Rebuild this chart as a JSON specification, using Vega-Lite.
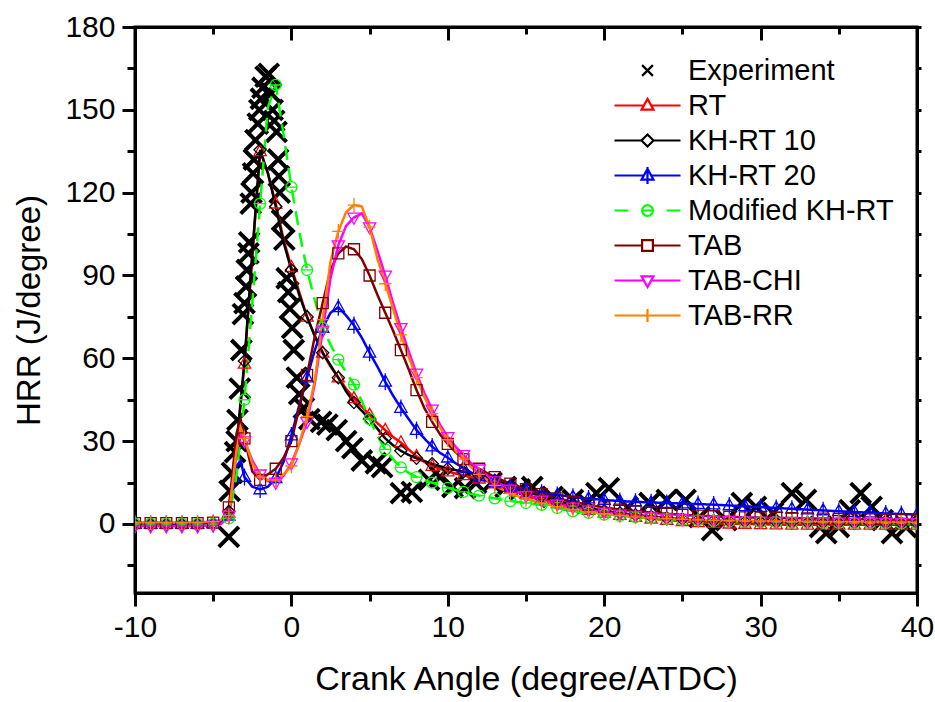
{
"$schema": "https://vega.github.io/schema/vega-lite/v6.json",
"width": 782, "height": 566,
"autosize": {"type": "none"},
"padding": {"left": 135, "top": 27, "right": 18, "bottom": 109},
"background": "white",
"config": {"view": {"stroke": "black", "strokeWidth": 3}},
"datasets": {
"exp": [
{"m":"Experiment","x":-4.0,"y":-4.7},{"m":"Experiment","x":-3.95,"y":12},{"m":"Experiment","x":-3.8,"y":18.5},{"m":"Experiment","x":-3.6,"y":26},{"m":"Experiment","x":-3.5,"y":30},{"m":"Experiment","x":-3.45,"y":37.7},{"m":"Experiment","x":-3.3,"y":49},{"m":"Experiment","x":-3.2,"y":63},{"m":"Experiment","x":-3.1,"y":76},{"m":"Experiment","x":-3.0,"y":80},{"m":"Experiment","x":-2.9,"y":86},{"m":"Experiment","x":-2.85,"y":92},{"m":"Experiment","x":-2.75,"y":98},{"m":"Experiment","x":-2.7,"y":102},{"m":"Experiment","x":-2.6,"y":116},{"m":"Experiment","x":-2.55,"y":120},{"m":"Experiment","x":-2.45,"y":127},{"m":"Experiment","x":-2.4,"y":132},{"m":"Experiment","x":-2.3,"y":139},{"m":"Experiment","x":-2.15,"y":145},{"m":"Experiment","x":-2.05,"y":150},{"m":"Experiment","x":-1.95,"y":154},{"m":"Experiment","x":-1.85,"y":158},{"m":"Experiment","x":-1.65,"y":162},{"m":"Experiment","x":-1.45,"y":163},{"m":"Experiment","x":-1.3,"y":156},{"m":"Experiment","x":-1.2,"y":150},{"m":"Experiment","x":-1.1,"y":146},{"m":"Experiment","x":-0.95,"y":142},{"m":"Experiment","x":-0.85,"y":132},{"m":"Experiment","x":-0.8,"y":126},{"m":"Experiment","x":-0.75,"y":120},{"m":"Experiment","x":-0.6,"y":110},{"m":"Experiment","x":-0.45,"y":103},{"m":"Experiment","x":-0.3,"y":89},{"m":"Experiment","x":-0.2,"y":84},{"m":"Experiment","x":-0.1,"y":78},{"m":"Experiment","x":0.05,"y":71},{"m":"Experiment","x":0.15,"y":63},{"m":"Experiment","x":0.35,"y":53},{"m":"Experiment","x":0.5,"y":47},{"m":"Experiment","x":0.8,"y":42},{"m":"Experiment","x":1.15,"y":38},{"m":"Experiment","x":1.9,"y":37},{"m":"Experiment","x":2.3,"y":36},{"m":"Experiment","x":2.9,"y":34},{"m":"Experiment","x":3.5,"y":30},{"m":"Experiment","x":3.9,"y":27.5},{"m":"Experiment","x":4.5,"y":23},{"m":"Experiment","x":5.4,"y":22},{"m":"Experiment","x":5.8,"y":20.6},{"m":"Experiment","x":7.0,"y":11.2},{"m":"Experiment","x":7.7,"y":11.6},{"m":"Experiment","x":8.8,"y":16},{"m":"Experiment","x":9.5,"y":17},{"m":"Experiment","x":10.3,"y":13.4},{"m":"Experiment","x":11.1,"y":13},{"m":"Experiment","x":11.8,"y":14.8},{"m":"Experiment","x":12.8,"y":15},{"m":"Experiment","x":13.7,"y":13.4},{"m":"Experiment","x":14.6,"y":12.5},{"m":"Experiment","x":15.4,"y":13.4},{"m":"Experiment","x":16.7,"y":9.8},{"m":"Experiment","x":18,"y":8.7},{"m":"Experiment","x":18.9,"y":7.6},{"m":"Experiment","x":19.5,"y":11.2},{"m":"Experiment","x":20.3,"y":13},{"m":"Experiment","x":21.5,"y":6},{"m":"Experiment","x":22.9,"y":7.6},{"m":"Experiment","x":24,"y":8.7},{"m":"Experiment","x":25.2,"y":8.7},{"m":"Experiment","x":26.1,"y":2.5},{"m":"Experiment","x":26.9,"y":-2.2},{"m":"Experiment","x":27.8,"y":1.4},{"m":"Experiment","x":28.8,"y":7.6},{"m":"Experiment","x":29.7,"y":6.2},{"m":"Experiment","x":30.8,"y":4},{"m":"Experiment","x":32,"y":11.2},{"m":"Experiment","x":32.9,"y":8.7},{"m":"Experiment","x":33.8,"y":-1.1},{"m":"Experiment","x":34.2,"y":-3.3},{"m":"Experiment","x":35,"y":-1.1},{"m":"Experiment","x":35.7,"y":5},{"m":"Experiment","x":36.4,"y":11.2},{"m":"Experiment","x":37.1,"y":6.2},{"m":"Experiment","x":37.8,"y":1.4},{"m":"Experiment","x":38.4,"y":-3.3},{"m":"Experiment","x":39.3,"y":-1.1}
],
"models": [
{"m":"RT","x":-10,"y":0},{"m":"RT","x":-9,"y":0},{"m":"RT","x":-8,"y":0},{"m":"RT","x":-7,"y":0},{"m":"RT","x":-6,"y":0},{"m":"RT","x":-5,"y":0.2},{"m":"RT","x":-4.5,"y":0.5},{"m":"RT","x":-4,"y":4},{"m":"RT","x":-3.5,"y":28},{"m":"RT","x":-3,"y":58},{"m":"RT","x":-2.5,"y":97},{"m":"RT","x":-2,"y":135},{"m":"RT","x":-1.5,"y":127},{"m":"RT","x":-1,"y":116},{"m":"RT","x":-0.5,"y":103},{"m":"RT","x":0,"y":93},{"m":"RT","x":0.5,"y":84},{"m":"RT","x":1,"y":75},{"m":"RT","x":1.5,"y":68},{"m":"RT","x":2,"y":62},{"m":"RT","x":2.5,"y":57},{"m":"RT","x":3,"y":53},{"m":"RT","x":3.5,"y":49},{"m":"RT","x":4,"y":45.5},{"m":"RT","x":4.5,"y":42.5},{"m":"RT","x":5,"y":39.5},{"m":"RT","x":5.5,"y":36.5},{"m":"RT","x":6,"y":34},{"m":"RT","x":6.5,"y":31.5},{"m":"RT","x":7,"y":29.5},{"m":"RT","x":7.5,"y":27},{"m":"RT","x":8,"y":24.5},{"m":"RT","x":8.5,"y":22.5},{"m":"RT","x":9,"y":21},{"m":"RT","x":9.5,"y":20},{"m":"RT","x":10,"y":19},{"m":"RT","x":10.5,"y":18.3},{"m":"RT","x":11,"y":17.6},{"m":"RT","x":11.5,"y":17},{"m":"RT","x":12,"y":16.4},{"m":"RT","x":13,"y":14.6},{"m":"RT","x":14,"y":12.6},{"m":"RT","x":15,"y":10.7},{"m":"RT","x":16,"y":9},{"m":"RT","x":17,"y":7.5},{"m":"RT","x":18,"y":6.2},{"m":"RT","x":19,"y":5},{"m":"RT","x":20,"y":4},{"m":"RT","x":21,"y":3.2},{"m":"RT","x":22,"y":2.5},{"m":"RT","x":23,"y":1.9},{"m":"RT","x":24,"y":1.4},{"m":"RT","x":25,"y":1},{"m":"RT","x":26,"y":0.6},{"m":"RT","x":27,"y":0.3},{"m":"RT","x":28,"y":0.1},{"m":"RT","x":29,"y":0},{"m":"RT","x":30,"y":-0.1},{"m":"RT","x":31,"y":-0.2},{"m":"RT","x":32,"y":-0.3},{"m":"RT","x":33,"y":-0.3},{"m":"RT","x":34,"y":-0.3},{"m":"RT","x":35,"y":-0.3},{"m":"RT","x":36,"y":-0.3},{"m":"RT","x":37,"y":-0.3},{"m":"RT","x":38,"y":-0.3},{"m":"RT","x":39,"y":-0.3},{"m":"RT","x":40,"y":-0.3},
{"m":"KH-RT 10","x":-10,"y":0},{"m":"KH-RT 10","x":-9,"y":0},{"m":"KH-RT 10","x":-8,"y":0},{"m":"KH-RT 10","x":-7,"y":0},{"m":"KH-RT 10","x":-6,"y":0},{"m":"KH-RT 10","x":-5,"y":0.2},{"m":"KH-RT 10","x":-4.5,"y":0.5},{"m":"KH-RT 10","x":-4,"y":4.5},{"m":"KH-RT 10","x":-3.5,"y":29},{"m":"KH-RT 10","x":-3,"y":59},{"m":"KH-RT 10","x":-2.5,"y":98},{"m":"KH-RT 10","x":-2,"y":135.5},{"m":"KH-RT 10","x":-1.5,"y":127},{"m":"KH-RT 10","x":-1,"y":115},{"m":"KH-RT 10","x":-0.5,"y":102},{"m":"KH-RT 10","x":0,"y":92},{"m":"KH-RT 10","x":0.5,"y":83},{"m":"KH-RT 10","x":1,"y":75},{"m":"KH-RT 10","x":1.5,"y":68},{"m":"KH-RT 10","x":2,"y":62},{"m":"KH-RT 10","x":2.5,"y":57.5},{"m":"KH-RT 10","x":3,"y":53},{"m":"KH-RT 10","x":3.5,"y":48},{"m":"KH-RT 10","x":4,"y":44},{"m":"KH-RT 10","x":4.5,"y":41},{"m":"KH-RT 10","x":5,"y":38},{"m":"KH-RT 10","x":5.5,"y":34.5},{"m":"KH-RT 10","x":6,"y":31},{"m":"KH-RT 10","x":6.5,"y":28.5},{"m":"KH-RT 10","x":7,"y":26.5},{"m":"KH-RT 10","x":7.5,"y":25},{"m":"KH-RT 10","x":8,"y":23.8},{"m":"KH-RT 10","x":8.5,"y":22.8},{"m":"KH-RT 10","x":9,"y":21.8},{"m":"KH-RT 10","x":9.5,"y":20.9},{"m":"KH-RT 10","x":10,"y":20.1},{"m":"KH-RT 10","x":10.5,"y":19.5},{"m":"KH-RT 10","x":11,"y":18.9},{"m":"KH-RT 10","x":11.5,"y":18.3},{"m":"KH-RT 10","x":12,"y":17.6},{"m":"KH-RT 10","x":13,"y":15.8},{"m":"KH-RT 10","x":14,"y":13.8},{"m":"KH-RT 10","x":15,"y":11.8},{"m":"KH-RT 10","x":16,"y":10},{"m":"KH-RT 10","x":17,"y":8.4},{"m":"KH-RT 10","x":18,"y":7},{"m":"KH-RT 10","x":19,"y":5.8},{"m":"KH-RT 10","x":20,"y":4.8},{"m":"KH-RT 10","x":21,"y":4},{"m":"KH-RT 10","x":22,"y":3.3},{"m":"KH-RT 10","x":23,"y":2.7},{"m":"KH-RT 10","x":24,"y":2.2},{"m":"KH-RT 10","x":25,"y":1.8},{"m":"KH-RT 10","x":26,"y":1.5},{"m":"KH-RT 10","x":27,"y":1.2},{"m":"KH-RT 10","x":28,"y":1},{"m":"KH-RT 10","x":29,"y":0.8},{"m":"KH-RT 10","x":30,"y":0.7},{"m":"KH-RT 10","x":31,"y":0.6},{"m":"KH-RT 10","x":32,"y":0.5},{"m":"KH-RT 10","x":33,"y":0.5},{"m":"KH-RT 10","x":34,"y":0.4},{"m":"KH-RT 10","x":35,"y":0.4},{"m":"KH-RT 10","x":36,"y":0.3},{"m":"KH-RT 10","x":37,"y":0.3},{"m":"KH-RT 10","x":38,"y":0.3},{"m":"KH-RT 10","x":39,"y":0.2},{"m":"KH-RT 10","x":40,"y":0.2},
{"m":"KH-RT 20","x":-10,"y":0},{"m":"KH-RT 20","x":-9,"y":0},{"m":"KH-RT 20","x":-8,"y":0},{"m":"KH-RT 20","x":-7,"y":0},{"m":"KH-RT 20","x":-6,"y":0},{"m":"KH-RT 20","x":-5,"y":0.2},{"m":"KH-RT 20","x":-4.5,"y":0.5},{"m":"KH-RT 20","x":-4,"y":3},{"m":"KH-RT 20","x":-3.5,"y":21},{"m":"KH-RT 20","x":-3.25,"y":23},{"m":"KH-RT 20","x":-3,"y":17},{"m":"KH-RT 20","x":-2.5,"y":13.5},{"m":"KH-RT 20","x":-2,"y":12.5},{"m":"KH-RT 20","x":-1.5,"y":13.5},{"m":"KH-RT 20","x":-1,"y":16.5},{"m":"KH-RT 20","x":-0.5,"y":22.5},{"m":"KH-RT 20","x":0,"y":32},{"m":"KH-RT 20","x":0.5,"y":43},{"m":"KH-RT 20","x":1,"y":53},{"m":"KH-RT 20","x":1.5,"y":63},{"m":"KH-RT 20","x":2,"y":71},{"m":"KH-RT 20","x":2.5,"y":76.5},{"m":"KH-RT 20","x":3,"y":78.5},{"m":"KH-RT 20","x":3.5,"y":75.5},{"m":"KH-RT 20","x":4,"y":72},{"m":"KH-RT 20","x":4.5,"y":67.5},{"m":"KH-RT 20","x":5,"y":62},{"m":"KH-RT 20","x":5.5,"y":57},{"m":"KH-RT 20","x":6,"y":51.5},{"m":"KH-RT 20","x":6.5,"y":46.5},{"m":"KH-RT 20","x":7,"y":42},{"m":"KH-RT 20","x":7.5,"y":38},{"m":"KH-RT 20","x":8,"y":34},{"m":"KH-RT 20","x":8.5,"y":31},{"m":"KH-RT 20","x":9,"y":28},{"m":"KH-RT 20","x":9.5,"y":25.8},{"m":"KH-RT 20","x":10,"y":24},{"m":"KH-RT 20","x":10.5,"y":22},{"m":"KH-RT 20","x":11,"y":20.3},{"m":"KH-RT 20","x":11.5,"y":18.6},{"m":"KH-RT 20","x":12,"y":17.2},{"m":"KH-RT 20","x":13,"y":15},{"m":"KH-RT 20","x":14,"y":13.5},{"m":"KH-RT 20","x":15,"y":12.3},{"m":"KH-RT 20","x":16,"y":11.3},{"m":"KH-RT 20","x":17,"y":10.5},{"m":"KH-RT 20","x":18,"y":9.8},{"m":"KH-RT 20","x":19,"y":9.2},{"m":"KH-RT 20","x":20,"y":8.7},{"m":"KH-RT 20","x":21,"y":8.3},{"m":"KH-RT 20","x":22,"y":8},{"m":"KH-RT 20","x":23,"y":7.8},{"m":"KH-RT 20","x":24,"y":7.6},{"m":"KH-RT 20","x":25,"y":7.4},{"m":"KH-RT 20","x":26,"y":7.2},{"m":"KH-RT 20","x":27,"y":7},{"m":"KH-RT 20","x":28,"y":6.7},{"m":"KH-RT 20","x":29,"y":6.4},{"m":"KH-RT 20","x":30,"y":6.1},{"m":"KH-RT 20","x":31,"y":5.8},{"m":"KH-RT 20","x":32,"y":5.5},{"m":"KH-RT 20","x":33,"y":5.2},{"m":"KH-RT 20","x":34,"y":4.9},{"m":"KH-RT 20","x":35,"y":4.6},{"m":"KH-RT 20","x":36,"y":4.3},{"m":"KH-RT 20","x":37,"y":4.1},{"m":"KH-RT 20","x":38,"y":3.8},{"m":"KH-RT 20","x":39,"y":3.6},{"m":"KH-RT 20","x":40,"y":3.4},
{"m":"Modified KH-RT","x":-10,"y":0},{"m":"Modified KH-RT","x":-9,"y":0},{"m":"Modified KH-RT","x":-8,"y":0},{"m":"Modified KH-RT","x":-7,"y":0},{"m":"Modified KH-RT","x":-6,"y":0},{"m":"Modified KH-RT","x":-5,"y":0},{"m":"Modified KH-RT","x":-4.5,"y":0.2},{"m":"Modified KH-RT","x":-4,"y":2},{"m":"Modified KH-RT","x":-3.5,"y":18},{"m":"Modified KH-RT","x":-3,"y":45},{"m":"Modified KH-RT","x":-2.5,"y":80},{"m":"Modified KH-RT","x":-2,"y":116},{"m":"Modified KH-RT","x":-1.5,"y":151},{"m":"Modified KH-RT","x":-1,"y":159},{"m":"Modified KH-RT","x":-0.5,"y":141},{"m":"Modified KH-RT","x":0,"y":122},{"m":"Modified KH-RT","x":0.5,"y":106},{"m":"Modified KH-RT","x":1,"y":92},{"m":"Modified KH-RT","x":1.5,"y":81},{"m":"Modified KH-RT","x":2,"y":71},{"m":"Modified KH-RT","x":2.5,"y":65},{"m":"Modified KH-RT","x":3,"y":59.5},{"m":"Modified KH-RT","x":3.5,"y":55},{"m":"Modified KH-RT","x":4,"y":50.5},{"m":"Modified KH-RT","x":4.5,"y":44.5},{"m":"Modified KH-RT","x":5,"y":38},{"m":"Modified KH-RT","x":5.5,"y":32},{"m":"Modified KH-RT","x":6,"y":27},{"m":"Modified KH-RT","x":6.5,"y":23.5},{"m":"Modified KH-RT","x":7,"y":20.5},{"m":"Modified KH-RT","x":7.5,"y":18.5},{"m":"Modified KH-RT","x":8,"y":17},{"m":"Modified KH-RT","x":8.5,"y":15.9},{"m":"Modified KH-RT","x":9,"y":15},{"m":"Modified KH-RT","x":9.5,"y":14},{"m":"Modified KH-RT","x":10,"y":13.1},{"m":"Modified KH-RT","x":10.5,"y":12.3},{"m":"Modified KH-RT","x":11,"y":11.6},{"m":"Modified KH-RT","x":11.5,"y":10.9},{"m":"Modified KH-RT","x":12,"y":10.3},{"m":"Modified KH-RT","x":13,"y":9.3},{"m":"Modified KH-RT","x":14,"y":8.3},{"m":"Modified KH-RT","x":15,"y":7.6},{"m":"Modified KH-RT","x":16,"y":6.9},{"m":"Modified KH-RT","x":17,"y":5.8},{"m":"Modified KH-RT","x":18,"y":4.6},{"m":"Modified KH-RT","x":19,"y":4},{"m":"Modified KH-RT","x":20,"y":3.4},{"m":"Modified KH-RT","x":21,"y":2.9},{"m":"Modified KH-RT","x":22,"y":2.5},{"m":"Modified KH-RT","x":23,"y":2.1},{"m":"Modified KH-RT","x":24,"y":1.8},{"m":"Modified KH-RT","x":25,"y":1.5},{"m":"Modified KH-RT","x":26,"y":1.3},{"m":"Modified KH-RT","x":27,"y":1.1},{"m":"Modified KH-RT","x":28,"y":0.9},{"m":"Modified KH-RT","x":29,"y":0.8},{"m":"Modified KH-RT","x":30,"y":0.7},{"m":"Modified KH-RT","x":31,"y":0.6},{"m":"Modified KH-RT","x":32,"y":0.5},{"m":"Modified KH-RT","x":33,"y":0.5},{"m":"Modified KH-RT","x":34,"y":0.4},{"m":"Modified KH-RT","x":35,"y":0.4},{"m":"Modified KH-RT","x":36,"y":0.3},{"m":"Modified KH-RT","x":37,"y":0.3},{"m":"Modified KH-RT","x":38,"y":0.3},{"m":"Modified KH-RT","x":39,"y":0.2},{"m":"Modified KH-RT","x":40,"y":0.2},
{"m":"TAB","x":-10,"y":0.3},{"m":"TAB","x":-9,"y":0.3},{"m":"TAB","x":-8,"y":0.3},{"m":"TAB","x":-7,"y":0.3},{"m":"TAB","x":-6,"y":0.3},{"m":"TAB","x":-5,"y":0.5},{"m":"TAB","x":-4.5,"y":1},{"m":"TAB","x":-4,"y":6},{"m":"TAB","x":-3.5,"y":33},{"m":"TAB","x":-3.25,"y":38},{"m":"TAB","x":-3,"y":31},{"m":"TAB","x":-2.5,"y":19},{"m":"TAB","x":-2,"y":16},{"m":"TAB","x":-1.5,"y":18},{"m":"TAB","x":-1,"y":20},{"m":"TAB","x":-0.5,"y":24},{"m":"TAB","x":0,"y":30},{"m":"TAB","x":0.5,"y":42},{"m":"TAB","x":1,"y":54},{"m":"TAB","x":1.5,"y":68},{"m":"TAB","x":2,"y":80},{"m":"TAB","x":2.5,"y":92},{"m":"TAB","x":3,"y":98},{"m":"TAB","x":3.5,"y":100.5},{"m":"TAB","x":4,"y":99.5},{"m":"TAB","x":4.5,"y":96},{"m":"TAB","x":5,"y":90},{"m":"TAB","x":5.5,"y":83},{"m":"TAB","x":6,"y":76.5},{"m":"TAB","x":6.5,"y":70},{"m":"TAB","x":7,"y":63},{"m":"TAB","x":7.5,"y":56},{"m":"TAB","x":8,"y":48.5},{"m":"TAB","x":8.5,"y":42},{"m":"TAB","x":9,"y":37},{"m":"TAB","x":9.5,"y":32.5},{"m":"TAB","x":10,"y":29},{"m":"TAB","x":10.5,"y":26},{"m":"TAB","x":11,"y":23.5},{"m":"TAB","x":11.5,"y":21.5},{"m":"TAB","x":12,"y":20},{"m":"TAB","x":13,"y":17},{"m":"TAB","x":14,"y":14.6},{"m":"TAB","x":15,"y":12.6},{"m":"TAB","x":16,"y":10.8},{"m":"TAB","x":17,"y":9.3},{"m":"TAB","x":18,"y":8},{"m":"TAB","x":19,"y":6.9},{"m":"TAB","x":20,"y":6},{"m":"TAB","x":21,"y":5.2},{"m":"TAB","x":22,"y":4.6},{"m":"TAB","x":23,"y":4.1},{"m":"TAB","x":24,"y":3.7},{"m":"TAB","x":25,"y":3.3},{"m":"TAB","x":26,"y":3},{"m":"TAB","x":27,"y":2.8},{"m":"TAB","x":28,"y":2.6},{"m":"TAB","x":29,"y":2.4},{"m":"TAB","x":30,"y":2.3},{"m":"TAB","x":31,"y":2.2},{"m":"TAB","x":32,"y":2.1},{"m":"TAB","x":33,"y":2},{"m":"TAB","x":34,"y":1.9},{"m":"TAB","x":35,"y":1.8},{"m":"TAB","x":36,"y":1.7},{"m":"TAB","x":37,"y":1.7},{"m":"TAB","x":38,"y":1.6},{"m":"TAB","x":39,"y":1.5},{"m":"TAB","x":40,"y":1.5},
{"m":"TAB-CHI","x":-10,"y":-0.8},{"m":"TAB-CHI","x":-9,"y":-0.8},{"m":"TAB-CHI","x":-8,"y":-0.8},{"m":"TAB-CHI","x":-7,"y":-0.8},{"m":"TAB-CHI","x":-6,"y":-0.8},{"m":"TAB-CHI","x":-5,"y":-0.5},{"m":"TAB-CHI","x":-4.5,"y":0},{"m":"TAB-CHI","x":-4,"y":3},{"m":"TAB-CHI","x":-3.5,"y":26},{"m":"TAB-CHI","x":-3.25,"y":33},{"m":"TAB-CHI","x":-3,"y":30},{"m":"TAB-CHI","x":-2.5,"y":23},{"m":"TAB-CHI","x":-2,"y":18},{"m":"TAB-CHI","x":-1.5,"y":15.5},{"m":"TAB-CHI","x":-1,"y":15},{"m":"TAB-CHI","x":-0.5,"y":17.5},{"m":"TAB-CHI","x":0,"y":22},{"m":"TAB-CHI","x":0.5,"y":29},{"m":"TAB-CHI","x":1,"y":37},{"m":"TAB-CHI","x":1.5,"y":51},{"m":"TAB-CHI","x":2,"y":70},{"m":"TAB-CHI","x":2.5,"y":89},{"m":"TAB-CHI","x":3,"y":101},{"m":"TAB-CHI","x":3.5,"y":108},{"m":"TAB-CHI","x":4,"y":111},{"m":"TAB-CHI","x":4.5,"y":112.5},{"m":"TAB-CHI","x":5,"y":107.5},{"m":"TAB-CHI","x":5.5,"y":99},{"m":"TAB-CHI","x":6,"y":90},{"m":"TAB-CHI","x":6.5,"y":80},{"m":"TAB-CHI","x":7,"y":71},{"m":"TAB-CHI","x":7.5,"y":62.5},{"m":"TAB-CHI","x":8,"y":54.5},{"m":"TAB-CHI","x":8.5,"y":47.5},{"m":"TAB-CHI","x":9,"y":41.5},{"m":"TAB-CHI","x":9.5,"y":36},{"m":"TAB-CHI","x":10,"y":31.5},{"m":"TAB-CHI","x":10.5,"y":28},{"m":"TAB-CHI","x":11,"y":25},{"m":"TAB-CHI","x":11.5,"y":22},{"m":"TAB-CHI","x":12,"y":19.8},{"m":"TAB-CHI","x":13,"y":15.5},{"m":"TAB-CHI","x":14,"y":12.5},{"m":"TAB-CHI","x":15,"y":10.2},{"m":"TAB-CHI","x":16,"y":8.5},{"m":"TAB-CHI","x":17,"y":7.1},{"m":"TAB-CHI","x":18,"y":6},{"m":"TAB-CHI","x":19,"y":5},{"m":"TAB-CHI","x":20,"y":4.2},{"m":"TAB-CHI","x":21,"y":3.5},{"m":"TAB-CHI","x":22,"y":3},{"m":"TAB-CHI","x":23,"y":2.5},{"m":"TAB-CHI","x":24,"y":2.1},{"m":"TAB-CHI","x":25,"y":1.8},{"m":"TAB-CHI","x":26,"y":1.5},{"m":"TAB-CHI","x":27,"y":1.3},{"m":"TAB-CHI","x":28,"y":1.1},{"m":"TAB-CHI","x":29,"y":1},{"m":"TAB-CHI","x":30,"y":0.9},{"m":"TAB-CHI","x":31,"y":0.8},{"m":"TAB-CHI","x":32,"y":0.8},{"m":"TAB-CHI","x":33,"y":0.7},{"m":"TAB-CHI","x":34,"y":0.7},{"m":"TAB-CHI","x":35,"y":0.6},{"m":"TAB-CHI","x":36,"y":0.6},{"m":"TAB-CHI","x":37,"y":0.5},{"m":"TAB-CHI","x":38,"y":0.5},{"m":"TAB-CHI","x":39,"y":0.5},{"m":"TAB-CHI","x":40,"y":0.4},
{"m":"TAB-RR","x":-10,"y":0.5},{"m":"TAB-RR","x":-9,"y":0.5},{"m":"TAB-RR","x":-8,"y":0.5},{"m":"TAB-RR","x":-7,"y":0.5},{"m":"TAB-RR","x":-6,"y":0.6},{"m":"TAB-RR","x":-5,"y":0.8},{"m":"TAB-RR","x":-4.5,"y":1.5},{"m":"TAB-RR","x":-4,"y":3},{"m":"TAB-RR","x":-3.5,"y":27},{"m":"TAB-RR","x":-3.25,"y":35},{"m":"TAB-RR","x":-3,"y":31},{"m":"TAB-RR","x":-2.5,"y":22},{"m":"TAB-RR","x":-2,"y":17},{"m":"TAB-RR","x":-1.5,"y":16},{"m":"TAB-RR","x":-1,"y":16},{"m":"TAB-RR","x":-0.5,"y":18},{"m":"TAB-RR","x":0,"y":21},{"m":"TAB-RR","x":0.5,"y":29},{"m":"TAB-RR","x":1,"y":39},{"m":"TAB-RR","x":1.5,"y":52},{"m":"TAB-RR","x":2,"y":74},{"m":"TAB-RR","x":2.5,"y":95},{"m":"TAB-RR","x":3,"y":106},{"m":"TAB-RR","x":3.5,"y":113},{"m":"TAB-RR","x":4,"y":115.5},{"m":"TAB-RR","x":4.5,"y":115},{"m":"TAB-RR","x":5,"y":107.5},{"m":"TAB-RR","x":5.5,"y":96},{"m":"TAB-RR","x":6,"y":87},{"m":"TAB-RR","x":6.5,"y":78},{"m":"TAB-RR","x":7,"y":68.5},{"m":"TAB-RR","x":7.5,"y":60.5},{"m":"TAB-RR","x":8,"y":53},{"m":"TAB-RR","x":8.5,"y":46},{"m":"TAB-RR","x":9,"y":40},{"m":"TAB-RR","x":9.5,"y":35},{"m":"TAB-RR","x":10,"y":30.5},{"m":"TAB-RR","x":10.5,"y":26.5},{"m":"TAB-RR","x":11,"y":23.5},{"m":"TAB-RR","x":11.5,"y":20.5},{"m":"TAB-RR","x":12,"y":18},{"m":"TAB-RR","x":13,"y":14},{"m":"TAB-RR","x":14,"y":11},{"m":"TAB-RR","x":15,"y":9},{"m":"TAB-RR","x":16,"y":7.5},{"m":"TAB-RR","x":17,"y":6.3},{"m":"TAB-RR","x":18,"y":5.2},{"m":"TAB-RR","x":19,"y":4.4},{"m":"TAB-RR","x":20,"y":3.7},{"m":"TAB-RR","x":21,"y":3.1},{"m":"TAB-RR","x":22,"y":2.6},{"m":"TAB-RR","x":23,"y":2.2},{"m":"TAB-RR","x":24,"y":1.9},{"m":"TAB-RR","x":25,"y":1.7},{"m":"TAB-RR","x":26,"y":1.5},{"m":"TAB-RR","x":27,"y":1.3},{"m":"TAB-RR","x":28,"y":1.2},{"m":"TAB-RR","x":29,"y":1.1},{"m":"TAB-RR","x":30,"y":1},{"m":"TAB-RR","x":31,"y":1},{"m":"TAB-RR","x":32,"y":0.9},{"m":"TAB-RR","x":33,"y":0.9},{"m":"TAB-RR","x":34,"y":0.8},{"m":"TAB-RR","x":35,"y":0.8},{"m":"TAB-RR","x":36,"y":0.8},{"m":"TAB-RR","x":37,"y":0.7},{"m":"TAB-RR","x":38,"y":0.7},{"m":"TAB-RR","x":39,"y":0.7},{"m":"TAB-RR","x":40,"y":0.6}
]
},
"resolve": {"axis": {"x": "independent", "y": "independent"}},
"layer": [
{
"data": {"name": "exp"},
"mark": {"type": "point", "shape": "M-1,-1L1,1M-1,1L1,-1", "size": 400, "strokeWidth": 4, "filled": false, "opacity": 1, "clip": true},
"encoding": {
"x": {"field": "x", "type": "quantitative", "scale": {"domain": [-10, 40], "nice": false, "zero": false},
 "axis": {"orient": "bottom", "values": [-10,-5,0,5,10,15,20,25,30,35,40], "labelExpr": "datum.value % 10 === 0 ? '' + datum.value : ''", "grid": false,
  "tickSize": {"condition": {"test": "datum.value % 10 === 0", "value": 13}, "value": 8}, "tickWidth": 3, "tickColor": "black", "domainWidth": 3, "domainColor": "black",
  "labelFont": "Liberation Sans", "labelFontSize": 30, "labelColor": "black", "labelPadding": 6, "labelFlush": false, "labelOverlap": false,
  "title": "Crank Angle (degree/ATDC)", "titleFont": "Liberation Sans", "titleFontSize": 34, "titleFontWeight": "normal", "titleColor": "black", "titlePadding": 20}},
"y": {"field": "y", "type": "quantitative", "scale": {"domain": [-25, 180], "nice": false, "zero": false},
 "axis": {"orient": "left", "values": [-15,0,15,30,45,60,75,90,105,120,135,150,165,180], "labelExpr": "datum.value % 30 === 0 ? '' + datum.value : ''", "grid": false,
  "tickSize": {"condition": {"test": "datum.value % 30 === 0", "value": 13}, "value": 8}, "tickWidth": 3, "tickColor": "black", "domainWidth": 3, "domainColor": "black",
  "labelFont": "Liberation Sans", "labelFontSize": 30, "labelColor": "black", "labelPadding": 7, "labelFlush": false, "labelOverlap": false,
  "title": "HRR (J/degree)", "titleFont": "Liberation Sans", "titleFontSize": 33, "titleFontWeight": "normal", "titleColor": "black", "titlePadding": 18}},
"color": {"field": "m", "type": "nominal", "scale": {"domain": ["Experiment","RT","KH-RT 10","KH-RT 20","Modified KH-RT","TAB","TAB-CHI","TAB-RR"], "range": ["#000000","#FF0000","#000000","#0000FF","#00FF00","#800000","#FF00FF","#FF8000"]},
 "legend": {"orient": "none", "legendX": 498, "legendY": 29, "title": null, "direction": "vertical", "padding": 0,
  "labelFont": "Liberation Sans", "labelFontSize": 29, "labelColor": "black", "labelLimit": 400, "labelOffset": 26,
  "symbolSize": 144, "symbolStrokeWidth": 2.2, "symbolFillColor": "transparent", "rowPadding": 5,
  "symbolType": {"expr": "datum.value === 'Experiment' ? 'M-0.9,-0.9L0.9,0.9M-0.9,0.9L0.9,-0.9' : datum.value === 'RT' ? 'M-5.5,0L-0.6,0M0.6,0L5.5,0M0,-1.1L1,0.7L-1,0.7Z' : datum.value === 'KH-RT 10' ? 'M-5.5,0L-1,0M1,0L5.5,0M0,-1L1,0L0,1L-1,0Z' : datum.value === 'KH-RT 20' ? 'M-5.5,0L-0.6,0M0.6,0L5.5,0M0,-1.1L1,0.7L-1,0.7ZM0,-1.4L0,1.4' : datum.value === 'Modified KH-RT' ? 'M-5.5,0L-3.2,0M3.2,0L5.5,0M-0.9,0A0.9,0.9,0,1,1,0.9,0A0.9,0.9,0,1,1,-0.9,0ZM-0.9,0L0.9,0' : datum.value === 'TAB' ? 'M-5.5,0L-0.9,0M0.9,0L5.5,0M-0.9,-0.9L0.9,-0.9L0.9,0.9L-0.9,0.9Z' : datum.value === 'TAB-CHI' ? 'M-5.5,0L-0.6,0M0.6,0L5.5,0M0,1.1L1,-0.7L-1,-0.7Z' : 'M-5.5,0L5.5,0M0,-1.1L0,1.1'"}
 }}
}
},
{
"data": {"name": "models"},
"mark": {"type": "line", "clip": true},
"encoding": {
"x": {"field": "x", "type": "quantitative", "scale": {"domain": [-10, 40], "nice": false, "zero": false},
 "axis": {"orient": "top", "values": [-10,-5,0,5,10,15,20,25,30,35,40], "labels": false, "title": null, "grid": false,
  "tickSize": {"condition": {"test": "datum.value % 10 === 0", "value": -13}, "value": -7}, "tickWidth": 3, "tickColor": "black", "domainWidth": 3, "domainColor": "black"}},
"y": {"field": "y", "type": "quantitative", "scale": {"domain": [-25, 180], "nice": false, "zero": false},
 "axis": {"orient": "right", "values": [-15,0,15,30,45,60,75,90,105,120,135,150,165,180], "labels": false, "title": null, "grid": false,
  "tickSize": 4, "tickWidth": 3, "tickColor": "black", "domainWidth": 3, "domainColor": "black"}},
"color": {"field": "m", "type": "nominal", "scale": {"domain": ["Experiment","RT","KH-RT 10","KH-RT 20","Modified KH-RT","TAB","TAB-CHI","TAB-RR"], "range": ["#000000","#FF0000","#000000","#0000FF","#00FF00","#800000","#FF00FF","#FF8000"]}, "legend": null},
"strokeDash": {"field": "m", "type": "nominal", "scale": {"domain": ["RT","KH-RT 10","KH-RT 20","Modified KH-RT","TAB","TAB-CHI","TAB-RR"], "range": [[1,0],[1,0],[1,0],[14,8],[1,0],[1,0],[1,0]]}, "legend": null},
"strokeWidth": {"field": "m", "type": "nominal", "scale": {"domain": ["RT","KH-RT 10","KH-RT 20","Modified KH-RT","TAB","TAB-CHI","TAB-RR"], "range": [2.5,2.5,3,2.8,3,2.5,3.5]}, "legend": null}
}
},
{
"data": {"name": "models"},
"transform": [{"filter": "datum.x === floor(datum.x)"}],
"mark": {"type": "point", "filled": false, "opacity": 1, "size": 150, "strokeWidth": 1.3, "clip": true},
"encoding": {
"x": {"field": "x", "type": "quantitative", "scale": {"domain": [-10, 40], "nice": false, "zero": false}, "axis": null},
"y": {"field": "y", "type": "quantitative", "scale": {"domain": [-25, 180], "nice": false, "zero": false}, "axis": null},
"shape": {"field": "m", "type": "nominal", "scale": {"domain": ["RT","KH-RT 10","KH-RT 20","Modified KH-RT","TAB","TAB-CHI","TAB-RR"], "range": ["M0,-1.1L1,0.7L-1,0.7Z","M0,-1L1,0L0,1L-1,0Z","M0,-1.1L1,0.7L-1,0.7ZM0,-1.4L0,1.4","M-0.9,0A0.9,0.9,0,1,1,0.9,0A0.9,0.9,0,1,1,-0.9,0ZM-0.9,0L0.9,0","M-0.9,-0.9L0.9,-0.9L0.9,0.9L-0.9,0.9Z","M0,1.1L1,-0.7L-1,-0.7Z","M-1,0L1,0M0,-1.2L0,1.2"]}, "legend": null},
"color": {"field": "m", "type": "nominal", "scale": {"domain": ["Experiment","RT","KH-RT 10","KH-RT 20","Modified KH-RT","TAB","TAB-CHI","TAB-RR"], "range": ["#000000","#FF0000","#000000","#0000FF","#00FF00","#800000","#FF00FF","#FF8000"]}, "legend": null}
}
}
]
}
